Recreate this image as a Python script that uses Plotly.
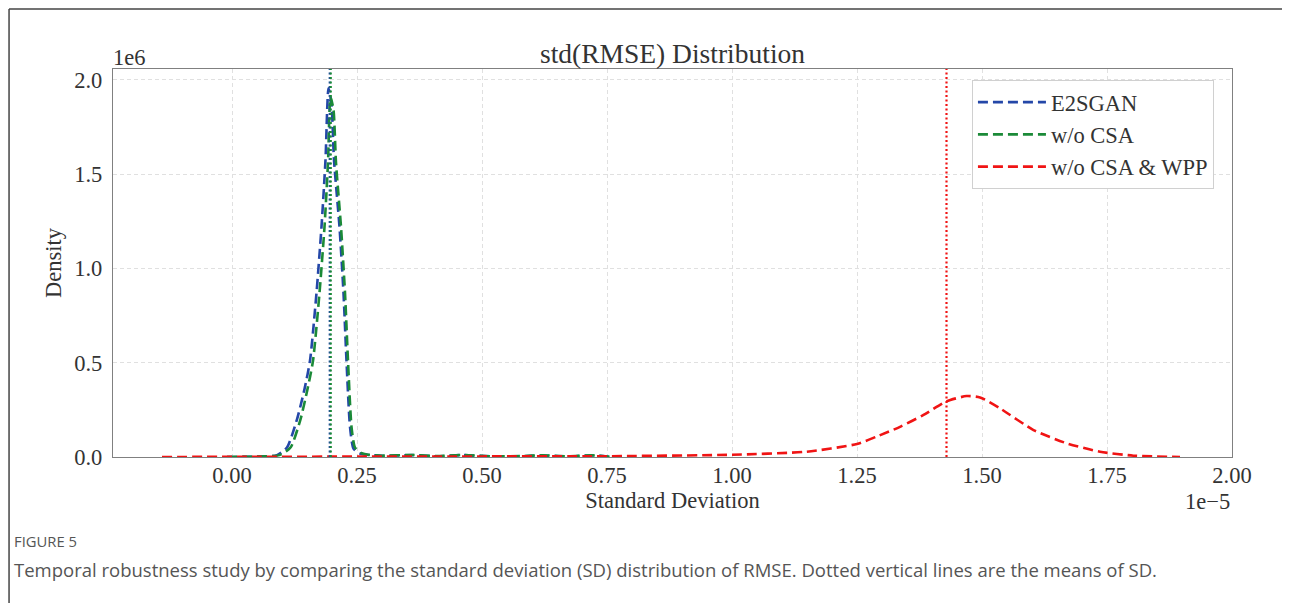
import plotly.graph_objects as go

# ---- data (x in units of 1e-5, density in units of 1e6) ----
series_names = ["E2SGAN", "w/o CSA", "w/o CSA & WPP"]
series_colors = ["#2447a8", "#1b8a38", "#f01414"]

e2sgan_x = [-0.01, 0.05, 0.09, 0.11, 0.13, 0.145, 0.156, 0.169, 0.179, 0.187, 0.193,
            0.199, 0.204, 0.215, 0.223, 0.229, 0.236, 0.243, 0.255, 0.27, 0.30, 0.36,
            0.41, 0.46, 0.52, 0.58, 0.62, 0.67, 0.72, 0.76]
e2sgan_y = [0.0, 0.002, 0.01, 0.05, 0.2, 0.36, 0.51, 0.87, 1.22, 1.575, 1.955,
            1.87, 1.575, 1.22, 0.87, 0.51, 0.16, 0.045, 0.02, 0.012, 0.006, 0.01,
            0.004, 0.01, 0.003, 0.004, 0.008, 0.003, 0.008, 0.0]

wocsa_x = [-0.01, 0.05, 0.095, 0.117, 0.137, 0.151, 0.162, 0.175, 0.185, 0.192, 0.197,
           0.203, 0.208, 0.218, 0.226, 0.232, 0.239, 0.246, 0.258, 0.27, 0.30, 0.36,
           0.41, 0.46, 0.52, 0.58, 0.62, 0.67, 0.72, 0.76]
wocsa_y = [0.0, 0.002, 0.01, 0.05, 0.2, 0.36, 0.51, 0.87, 1.22, 1.56, 1.91,
           1.84, 1.56, 1.22, 0.87, 0.51, 0.16, 0.05, 0.022, 0.013, 0.007, 0.011,
           0.005, 0.011, 0.004, 0.005, 0.009, 0.004, 0.009, 0.0]

wocsawpp_x = [-0.14, 0.0, 0.25, 0.5, 0.74, 1.0, 1.149, 1.25, 1.289, 1.336, 1.383,
              1.429, 1.469, 1.496, 1.536, 1.603, 1.669, 1.736, 1.803, 1.896]
wocsawpp_y = [0.0, 0.001, 0.002, 0.003, 0.004, 0.012, 0.028, 0.069, 0.108, 0.16, 0.223,
              0.295, 0.323, 0.316, 0.258, 0.143, 0.073, 0.028, 0.007, 0.0]

series_x = [e2sgan_x, wocsa_x, wocsawpp_x]
series_y = [e2sgan_y, wocsa_y, wocsawpp_y]
series_means = [0.1955, 0.1975, 1.429]

x_ticks = [0.0, 0.25, 0.5, 0.75, 1.0, 1.25, 1.5, 1.75, 2.0]
x_ticklabels = ["0.00", "0.25", "0.50", "0.75", "1.00", "1.25", "1.50", "1.75", "2.00"]
y_ticks = [0.0, 0.5, 1.0, 1.5, 2.0]
y_ticklabels = ["0.0", "0.5", "1.0", "1.5", "2.0"]

title_text = "std(RMSE) Distribution"
x_title = "Standard Deviation"
y_title = "Density"
caption_label = "FIGURE 5"
caption_text = ("Temporal robustness study by comparing the standard deviation (SD) "
                "distribution of RMSE. Dotted vertical lines are the means of SD.")

SERIF = "Liberation Serif, Times New Roman, serif"
SANS = "Open Sans, Noto Sans, sans-serif"
TXT = "#333333"
FS = 22.5

fig = go.Figure()
for name, xs, ys, col in zip(series_names, series_x, series_y, series_colors):
    fig.add_trace(go.Scatter(
        x=xs, y=ys, mode="lines", name=name,
        line=dict(color=col, width=2.6, dash="10px,5px", shape="spline", smoothing=0.6),
        legendgroup=name,
    ))

for m, col in zip(series_means, series_colors):
    fig.add_shape(type="line", xref="x", yref="paper", x0=m, x1=m, y0=0, y1=1,
                  line=dict(color=col, width=2.2, dash="2px,2.5px"), layer="above")

# figure frame (top and left edges)
FX, FY = -0.0929, 1.1546
fig.add_shape(type="line", xref="paper", yref="paper", x0=FX, x1=1.06, y0=FY, y1=FY,
              line=dict(color="#444444", width=1.5))
fig.add_shape(type="line", xref="paper", yref="paper", x0=FX, x1=FX, y0=FY, y1=-0.40,
              line=dict(color="#444444", width=1.5))

fig.update_layout(
    width=1290, height=603,
    margin=dict(l=105, r=66, t=61, b=154),
    paper_bgcolor="white", plot_bgcolor="white",
    showlegend=True,
    title=dict(text=title_text, x=0.5, xref="paper", xanchor="center",
               y=1 - 45 / 603, yref="container", yanchor="middle",
               font=dict(family=SERIF, size=27.5, color=TXT)),
    legend=dict(x=0.7676, y=0.9716, xanchor="left", yanchor="top",
                bgcolor="white", bordercolor="#d0d0d0", borderwidth=1,
                font=dict(family=SERIF, size=22.5, color=TXT),
                tracegroupgap=0, itemwidth=68),
    font=dict(family=SERIF, color=TXT),
)

fig.update_xaxes(
    range=[-0.238, 2.0], tickvals=x_ticks, ticktext=x_ticklabels,
    showgrid=True, gridcolor="#e0e0e0", griddash="4px,3px", gridwidth=1,
    showline=True, mirror=True, linecolor="#808080", linewidth=1.3,
    zeroline=False, ticks="", ticklabelstandoff=-2,
    tickfont=dict(family=SERIF, size=FS, color=TXT),
    title=dict(text=x_title, font=dict(family=SERIF, size=FS, color=TXT), standoff=2),
)
fig.update_yaxes(
    range=[0, 2.057], tickvals=y_ticks, ticktext=y_ticklabels,
    showgrid=True, gridcolor="#e0e0e0", griddash="4px,3px", gridwidth=1,
    showline=True, mirror=True, linecolor="#808080", linewidth=1.3,
    zeroline=False, ticks="", ticklabelstandoff=5,
    tickfont=dict(family=SERIF, size=FS, color=TXT),
    title=dict(text=y_title, font=dict(family=SERIF, size=FS, color=TXT), standoff=6),
)

fig.add_annotation(text="1e6", xref="paper", yref="paper", x=0, y=1.0, xanchor="left",
                   yanchor="bottom", showarrow=False, yshift=-3, xshift=-2,
                   font=dict(family=SERIF, size=FS, color=TXT))
fig.add_annotation(text="1e\u22125", xref="paper", yref="paper", x=1.0, y=-0.115,
                   xanchor="right", yanchor="middle", showarrow=False,
                   font=dict(family=SERIF, size=FS, color=TXT))
fig.add_annotation(text=caption_label, xref="paper", yref="paper", x=-0.0903, y=-0.2165,
                   xanchor="left", yanchor="middle", showarrow=False,
                   font=dict(family=SANS, size=14.8, color="#555555"))
fig.add_annotation(text=caption_text, xref="paper", yref="paper", x=-0.0903, y=-0.289,
                   xanchor="left", yanchor="middle", showarrow=False,
                   font=dict(family=SANS, size=18.5, color="#555555"))

fig.write_html("out.html")
